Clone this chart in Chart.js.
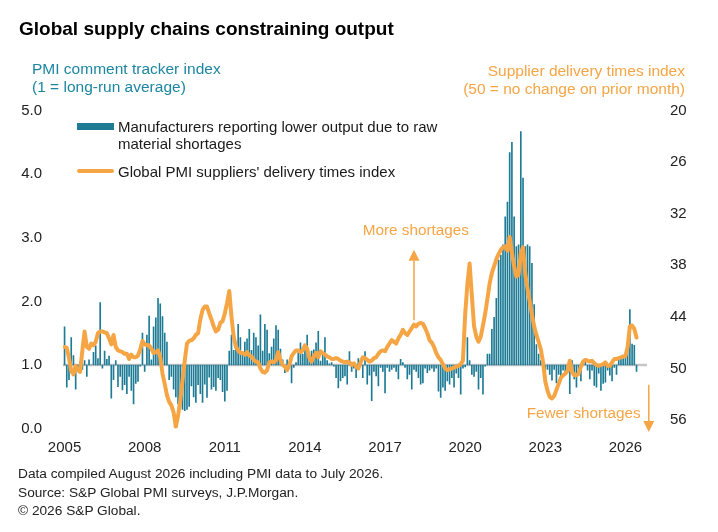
<!DOCTYPE html>
<html>
<head>
<meta charset="utf-8">
<script src="https://cdn.jsdelivr.net/npm/chart.js@4.4.1/dist/chart.umd.min.js"></script>
<style>
  body { margin: 0; background: #fff; }
  #wrap { position: relative; width: 718px; height: 532px; font-family: "Liberation Sans", Arial, sans-serif; color: #1a1a1a; }
  #chart { position: absolute; left: 0; top: 0; }
  .t { position: absolute; white-space: nowrap; }
  #title { left: 19px; top: 18px; font-size: 19px; line-height: 22px; font-weight: bold; color: #000; }
  #leftTitle { left: 32px; top: 60px; font-size: 15.5px; line-height: 18px; color: #1d86a0; }
  #rightTitle { right: 33px; top: 61.5px; font-size: 15.5px; line-height: 18px; color: #f6a545; text-align: right; }
  .legendText { left: 118px; font-size: 15px; line-height: 17px; }
  #legBar { left: 77px; top: 123px; width: 37px; height: 7px; background: #1e7b95; }
  #legLine { left: 77px; top: 169px; width: 37px; height: 4px; background: #f6a545; border-radius: 2px; }
  .note { font-size: 15.3px; line-height: 18px; color: #f6a545; }
  #footer { left: 18px; top: 465px; font-size: 13.7px; line-height: 18.5px; color: #222; }
</style>
</head>
<body>
<div id="wrap">
  <canvas id="chart" width="718" height="532"></canvas>
  <div class="t" id="title">Global supply chains constraining output</div>
  <div class="t" id="leftTitle">PMI comment tracker index<br>(1 = long-run average)</div>
  <div class="t" id="rightTitle">Supplier delivery times index<br>(50 = no change on prior month)</div>
  <div class="t" id="legBar"></div>
  <div class="t legendText" style="top:118px">Manufacturers reporting lower output due to raw<br>material shortages</div>
  <div class="t" id="legLine"></div>
  <div class="t legendText" style="top:162.5px">Global PMI suppliers' delivery times index</div>
  <div class="t note" style="left:362.7px; top:221px">More shortages</div>
  <div class="t note" style="left:526.7px; top:404px">Fewer shortages</div>
  <div class="t" id="footer">Data compiled August 2026 including PMI data to July 2026.<br>Source: S&amp;P Global PMI surveys, J.P.Morgan.<br>© 2026 S&amp;P Global.</div>
</div>
<script>
// monthly, Jan 2005 onwards
const yearLabels = ['2005', '2008', '2011', '2014', '2017', '2020', '2023', '2026'];
const leftTicks = [0, 1, 2, 3, 4, 5];
const rightTicks = [20, 26, 32, 38, 44, 50, 56];

// PMI comment tracker (1 = long-run average), one row per year
const barValues = [
  1.6, 0.65, 0.77, 1.43, 1.15, 0.62, 0.9, 1.05, 0.93, 1.07, 0.82, 1.08,
  1.0, 1.2, 1.3, 1.1, 1.98, 0.95, 1.22, 1.09, 1.14, 0.48, 0.77, 1.07,
  0.66, 0.82, 0.61, 0.69, 0.55, 0.82, 0.6, 0.39, 0.71, 0.74, 0.98, 1.5,
  0.9, 1.47, 1.77, 1.08, 1.6, 1.74, 2.05, 1.96, 1.76, 1.5, 1.36, 0.77,
  0.82, 0.62, 0.5, 0.39, 0.33, 0.3, 0.28, 0.3, 0.35, 0.67, 0.5, 0.41,
  0.69, 0.55, 0.41, 0.7, 0.49, 0.81, 0.62, 0.66, 0.6, 0.8, 0.77, 0.58,
  0.43, 0.6, 1.22, 1.47, 1.23, 1.3, 1.64, 1.43, 1.2, 1.36, 1.41, 1.56,
  1.23, 1.5, 1.43, 1.3, 1.79, 1.22, 1.64, 1.55, 1.18, 1.28, 1.41, 1.62,
  1.55, 1.25, 1.08, 0.88, 1.08, 0.95, 0.72, 0.96, 1.04, 1.19, 1.35, 1.17,
  1.27, 1.47, 1.12, 1.22, 1.24, 1.35, 1.53, 1.06, 1.17, 1.43, 1.07, 1.02,
  1.04, 0.98, 0.8, 0.64, 0.75, 0.8, 0.83, 0.7, 1.21, 0.9, 0.95, 0.8,
  1.1, 1.06, 0.8, 1.21, 0.7, 0.84, 0.44, 0.9, 0.83, 0.67, 0.96, 0.9,
  0.56, 0.96, 0.9, 0.93, 0.96, 0.9, 0.78, 1.09, 1.04, 0.96, 0.78, 0.85,
  0.62, 0.93, 0.9, 0.8, 0.7, 0.72, 0.95, 0.88, 0.92, 0.95, 0.9, 0.95,
  0.59, 0.49, 0.65, 0.6, 0.75, 0.7, 0.8, 0.65, 0.87, 0.8, 0.54, 0.95,
  0.97, 1.43, 1.07, 0.85, 0.82, 0.9, 0.62, 0.8, 0.54, 0.98, 1.17, 1.17,
  1.56, 1.75, 2.05, 2.65, 2.73, 2.89, 3.33, 3.56, 4.34, 4.5, 3.33, 2.86,
  2.89, 4.67, 3.94, 2.86, 2.89, 2.86, 2.6, 1.95, 1.32, 1.17, 1.07, 1.0,
  0.9, 0.93, 0.85, 0.76, 0.93, 0.72, 0.85, 0.8, 0.92, 0.85, 0.92, 0.55,
  1.07, 0.78, 0.65, 0.84, 0.75, 1.07, 1.06, 0.92, 0.78, 0.92, 0.68, 0.65,
  0.87, 0.6, 0.71, 0.73, 0.92, 0.84, 0.75, 0.96, 0.85, 1.09, 1.12, 1.1,
  1.17, 1.3, 1.87, 1.33, 1.31, 0.9
];

// Global PMI suppliers' delivery times index
const lineValues = [
  47.5, 47.6, 48.8, 50.3, 50.7, 49.7, 50.2, 50.4, 47.9, 45.7, 47.5, 47.7,
  47.1, 47.3, 46.9, 45.9, 45.7, 45.7, 45.8, 45.9, 46.5, 47.2, 46.1, 47.5,
  47.9, 48.0, 48.1, 48.3, 48.3, 48.9, 48.4, 48.7, 48.7, 48.5, 47.8, 46.8,
  47.2, 47.3, 47.3, 47.7, 48.2, 48.1, 47.9, 48.7, 50.6, 51.8, 53.1, 53.9,
  54.3, 55.1, 56.8, 55.5, 53.7, 51.4, 49.1, 47.1, 46.8, 46.7, 46.5, 46.1,
  45.9, 44.3, 43.2, 42.8, 42.8, 43.6, 44.3, 45.1, 45.7, 45.5, 44.7, 44.5,
  43.6, 42.4, 41.0, 44.0, 46.3, 47.5, 47.9, 48.2, 48.2, 48.4, 48.1, 48.5,
  48.6, 49.0, 49.2, 49.3, 50.0, 50.4, 50.5, 50.2, 49.3, 49.2, 49.3, 49.0,
  48.1, 49.0, 49.6, 49.8, 50.2, 49.6, 48.6, 48.2, 47.9, 47.9, 48.1, 47.9,
  47.3, 47.7, 48.8, 49.2, 48.6, 48.2, 48.7, 48.0, 48.2, 48.4, 48.6, 48.7,
  48.9, 48.9, 48.8, 48.9, 49.1, 49.2, 49.3, 49.2, 49.3, 49.6, 49.4, 49.8,
  50.0, 49.3, 48.7, 48.8, 49.0, 49.2, 49.1, 48.8, 48.7, 48.3, 48.0, 47.9,
  48.0, 47.5, 47.1, 46.7, 46.9, 47.1, 46.5, 46.1, 45.5, 45.9, 46.1, 45.7,
  45.3, 44.9, 45.1, 44.8, 44.7, 44.8, 45.3, 45.9, 46.7, 47.0, 47.5, 48.2,
  48.7, 49.0, 49.5, 50.0, 50.2, 50.1, 50.0, 49.9, 49.8, 49.7, 49.5, 49.1,
  43.7, 40.2, 37.8, 41.5, 45.1, 46.3, 46.9, 46.3, 45.0, 43.6, 41.9, 40.1,
  38.9, 38.1, 37.3, 36.7, 36.2, 35.9, 35.8, 36.3, 34.7, 36.5, 38.1, 39.3,
  39.1, 36.6, 35.9, 39.0, 40.7, 42.2, 43.7, 45.1, 46.1, 46.9, 47.8, 49.3,
  51.5, 52.6, 53.3, 53.5, 53.2, 52.5, 51.8, 51.1, 50.8, 50.6, 50.3, 49.1,
  50.4, 50.8, 50.8, 50.6, 49.8, 49.2, 49.0, 49.1, 49.2, 49.1, 49.4, 49.6,
  49.7, 49.6, 49.5, 49.3, 49.7, 49.7, 49.3, 48.9, 48.9, 48.8, 48.7, 48.6,
  48.6, 47.5, 45.1, 45.0, 45.4, 46.4
];

const teal = '#1e7b95';
const orange = '#f6a545';

Chart.defaults.font.family = '"Liberation Sans", Arial, sans-serif';
Chart.defaults.font.size = 15;
Chart.defaults.color = '#222';

// grey line at the long-run average
const baseline = {
    id: 'baseline',
    beforeDatasetsDraw(chart) {
        const {ctx, chartArea, scales} = chart;
        const py = scales.y.getPixelForValue(1);
        ctx.save();
        ctx.strokeStyle = '#c6c6c6';
        ctx.lineWidth = 2.5;
        ctx.beginPath();
        ctx.moveTo(chartArea.left, py);
        ctx.lineTo(chartArea.right, py);
        ctx.stroke();
        ctx.restore();
    }
};

// "more / fewer shortages" arrows, placed in month / delivery-index units
const arrows = {
    id: 'arrows',
    afterDatasetsDraw(chart) {
        const {ctx, scales} = chart;
        const draw = (month, from, to) => {
            const x = scales.x.getPixelForValue(month);
            const y0 = scales.y2.getPixelForValue(from);
            const y1 = scales.y2.getPixelForValue(to);
            const dir = y1 < y0 ? 1 : -1;
            const headBase = y1 + dir * 11;
            ctx.save();
            ctx.strokeStyle = orange;
            ctx.fillStyle = orange;
            ctx.lineWidth = 1.5;
            ctx.beginPath();
            ctx.moveTo(x, y0);
            ctx.lineTo(x, headBase);
            ctx.stroke();
            ctx.beginPath();
            ctx.moveTo(x - 5.5, headBase);
            ctx.lineTo(x + 5.5, headBase);
            ctx.lineTo(x, y1);
            ctx.closePath();
            ctx.fill();
            ctx.restore();
        };
        draw(157, 44.4, 36.2);
        draw(262.5, 51.9, 57.4);
    }
};

const chart = new Chart(document.getElementById('chart').getContext('2d'), {
    type: 'bar',
    data: {
        datasets: [
            {
                type: 'line',
                label: "Global PMI suppliers' delivery times index",
                data: lineValues.map((v, i) => ({x: i, y: v})),
                yAxisID: 'y2',
                borderColor: orange,
                borderWidth: 4,
                pointRadius: 0,
                tension: 0,
                borderJoinStyle: 'round',
                borderCapStyle: 'round',
                order: 0
            },
            {
                type: 'bar',
                label: 'Manufacturers reporting lower output due to raw material shortages',
                data: barValues.map((v, i) => ({x: i, y: [1, v]})),
                yAxisID: 'y',
                backgroundColor: teal,
                barThickness: 1.0,
                order: 1
            }
        ]
    },
    options: {
        responsive: false,
        animation: false,
        layout: {padding: {top: 110.6, left: 0, right: 0, bottom: 0}},
        plugins: {legend: {display: false}, tooltip: {enabled: false}},
        scales: {
            x: {
                type: 'linear',
                offset: false,
                min: -0.7,
                max: 261.7,
                grid: {display: false, offset: false},
                border: {display: false},
                afterFit(s) { s.height = 103.4; },
                afterBuildTicks(s) { s.ticks = yearLabels.map((y, k) => ({value: k * 36})); },
                ticks: {padding: 2, maxRotation: 0, autoSkip: false, callback: (v, i) => yearLabels[i]}
            },
            y: {
                position: 'left',
                min: 0,
                max: 5,
                grid: {display: false},
                border: {display: false},
                afterFit(s) { s.width = 63; },
                afterBuildTicks(s) { s.ticks = leftTicks.map(v => ({value: v})); },
                ticks: {padding: 13, callback: v => v.toFixed(1)}
            },
            y2: {
                position: 'right',
                reverse: true,
                min: 20,
                max: 57,
                grid: {display: false},
                border: {display: false},
                afterFit(s) { s.width = 71; },
                afterBuildTicks(s) { s.ticks = rightTicks.map(v => ({value: v})); },
                ticks: {padding: 15}
            }
        }
    },
    plugins: [baseline, arrows]
});
</script>
</body>
</html>
